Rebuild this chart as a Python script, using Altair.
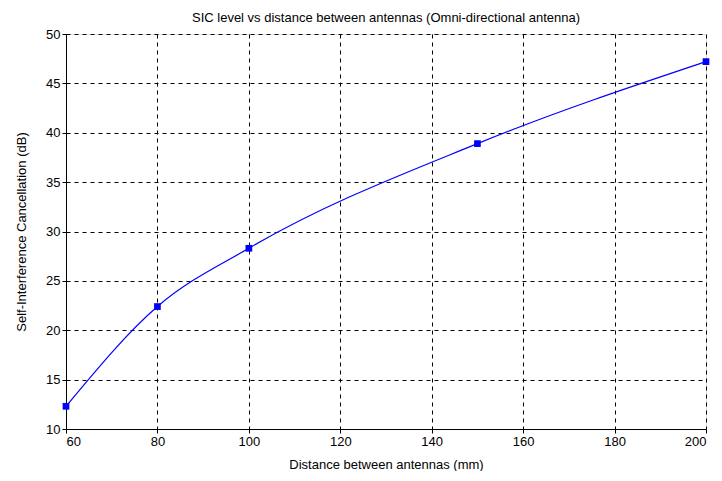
import altair as alt
import pandas as pd

distance = [60, 80, 100, 150, 200]
sic = [12.3, 22.4, 28.3, 38.9, 47.2]

df = pd.DataFrame({"d": distance, "sic": sic})

FONT = "Liberation Sans"

x = alt.X("d:Q", scale=alt.Scale(domain=[60, 200], nice=False, zero=False),
          axis=alt.Axis(title="Distance between antennas (mm)", values=list(range(60, 201, 20)),
                        grid=True, gridDash=[4, 4], gridColor="black", gridOpacity=1,
                        domainColor="black", tickColor="black", tickSize=4,
                        labelColor="black", labelFontSize=13, labelFont=FONT,
                        titleFont=FONT, titleFontSize=13, titleFontWeight="normal",
                        titleColor="black", titlePadding=10, labelPadding=2))
y = alt.Y("sic:Q", scale=alt.Scale(domain=[10, 50], nice=False, zero=False),
          axis=alt.Axis(title="Self-Interference Cancellation (dB)", values=list(range(10, 51, 5)),
                        grid=True, gridDash=[4, 4], gridColor="black", gridOpacity=1,
                        domainColor="black", tickColor="black", tickSize=4,
                        labelColor="black", labelFontSize=13, labelFont=FONT,
                        titleFont=FONT, titleFontSize=13, titleFontWeight="normal",
                        titleColor="black", titlePadding=17, labelPadding=2))

line = alt.Chart(df).mark_line(color="#0000ff", strokeWidth=1.2, interpolate="monotone").encode(x=x, y=y)
pts = alt.Chart(df).mark_square(color="#0000ff", size=45, opacity=1).encode(x=x, y=y)

chart = alt.layer(line, pts).properties(
    width=640, height=395,
    title=alt.TitleParams("SIC level vs distance between antennas (Omni-directional antenna)",
                          font=FONT, fontSize=13, fontWeight="normal", color="black", offset=3),
    autosize=alt.AutoSizeParams(type="none"),
    padding={"left": 58, "top": 26, "right": 6, "bottom": 42},
).configure_view(stroke="black", strokeWidth=1).configure(background="white")

chart.save("out.html", embed_options={"renderer": "svg", "actions": False})
